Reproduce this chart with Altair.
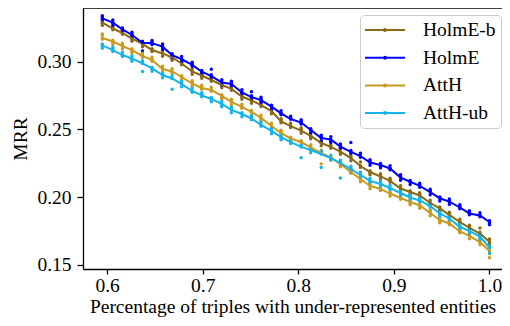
import altair as alt
import pandas as pd

# x positions (fraction of triples with under-represented entities)
x_vals = [0.595, 0.606, 0.616, 0.626, 0.637, 0.647, 0.658, 0.668, 0.678, 0.689,
          0.699, 0.709, 0.720, 0.730, 0.741, 0.751, 0.761, 0.772, 0.782, 0.792,
          0.803, 0.813, 0.824, 0.834, 0.844, 0.855, 0.865, 0.875, 0.886, 0.896,
          0.907, 0.917, 0.927, 0.938, 0.948, 0.958, 0.969, 0.979, 0.990, 1.000]

series_names = ["HolmE-b", "HolmE", "AttH", "AttH-ub"]
series_colors = ["#8C6914", "#0000FF", "#C99A1E", "#14B4EB"]

# mean MRR (line)
mrr_holme_b = [0.3288, 0.3245, 0.3212, 0.3171, 0.3131, 0.3086, 0.3061, 0.3031, 0.2987, 0.2928,
               0.2898, 0.2865, 0.2828, 0.2799, 0.2743, 0.2714, 0.2680, 0.2636, 0.2559, 0.2525,
               0.2492, 0.2452, 0.2400, 0.2371, 0.2337, 0.2289, 0.2230, 0.2186, 0.2153, 0.2120,
               0.2064, 0.2038, 0.2013, 0.1957, 0.1917, 0.1869, 0.1817, 0.1773, 0.1732, 0.1672]
mrr_holme = [0.3320, 0.3288, 0.3239, 0.3197, 0.3140, 0.3137, 0.3111, 0.3049, 0.3018, 0.2976,
             0.2926, 0.2894, 0.2847, 0.2835, 0.2773, 0.2739, 0.2717, 0.2668, 0.2619, 0.2577,
             0.2551, 0.2496, 0.2437, 0.2426, 0.2373, 0.2334, 0.2304, 0.2256, 0.2238, 0.2212,
             0.2145, 0.2114, 0.2083, 0.2038, 0.1992, 0.1967, 0.1924, 0.1880, 0.1865, 0.1817]
mrr_atth = [0.3175, 0.3149, 0.3116, 0.3086, 0.3042, 0.3013, 0.2946, 0.2928, 0.2887, 0.2839,
            0.2806, 0.2791, 0.2747, 0.2703, 0.2666, 0.2629, 0.2585, 0.2525, 0.2474, 0.2433,
            0.2407, 0.2367, 0.2326, 0.2293, 0.2245, 0.2186, 0.2134, 0.2083, 0.2061, 0.2027,
            0.1994, 0.1965, 0.1939, 0.1883, 0.1832, 0.1806, 0.1747, 0.1714, 0.1669, 0.1603]
mrr_atth_ub = [0.3120, 0.3086, 0.3049, 0.3024, 0.2987, 0.2950, 0.2902, 0.2876, 0.2835, 0.2784,
               0.2751, 0.2725, 0.2688, 0.2644, 0.2614, 0.2581, 0.2533, 0.2489, 0.2444, 0.2407,
               0.2371, 0.2348, 0.2319, 0.2289, 0.2252, 0.2208, 0.2164, 0.2120, 0.2097, 0.2068,
               0.2031, 0.1998, 0.1976, 0.1935, 0.1880, 0.1843, 0.1780, 0.1751, 0.1710, 0.1629]

# individual runs: deviation from the mean, in units of 0.001 MRR
runs_holme_b = [
    [1, -1, 2, 1, -2, 1, 2, -1, 1, 2, -2, 1, 2, -1, 1, -2, 2, 1, -1, 2, 1, -2, 1, 2, -1, 1, 3, -2, 1, 2, -1, 1, -2, 2, 1, -1, 2, 1, 4, -1],
    [-2, 1, -1, -2, 1, -1, -2, 2, -1, -2, 1, -1, -2, 2, -2, 1, -1, -2, 2, -1, -2, 1, -2, -1, 2, -2, -1, 1, -2, -1, 2, -2, 1, -1, -2, 2, -1, -2, -1, 2],
    [0, 2, 1, -1, 2, 0, 1, -2, 2, 0, -1, 2, 0, 1, -1, 2, 0, -1, 1, 0, 2, -1, 0, 1, -2, 2, 0, -1, 2, 1, 0, -1, 2, 0, -1, 1, 0, 2, 1, -2],
]
runs_holme = [
    [1, 2, -1, 2, 0, 1, -2, 1, 2, -1, 1, 5, 2, -1, 2, 4, -2, 1, 2, 0, 1, -2, 1, 2, -1, 7, 2, 1, -1, 2, 1, -2, 2, 1, -2, 1, 2, -1, 2, 1],
    [-1, -2, 1, -1, -6, -1, 2, -1, -2, 1, -2, -1, -1, 2, -1, -2, 1, -2, -1, 2, -1, 1, -2, -1, 2, -1, -1, -2, 1, -1, -2, 1, -1, -2, 1, -2, -1, 1, -1, -2],
    [2, 0, -2, 1, 1, 2, 1, -2, 0, 2, -1, 1, -2, 1, 0, 1, 2, -1, 0, 1, 2, 0, 2, -2, 1, 1, 0, 2, -2, 0, 2, 0, 1, 2, 0, 2, 1, 2, 0, -1],
]
runs_atth = [
    [2, 1, -2, 1, 2, -1, 1, 2, -2, 1, 2, -1, 1, -2, 2, 1, -1, 2, 1, -2, 1, 2, -8, 1, 2, -1, 1, -2, 2, 1, -1, 2, 1, -2, 1, -1, 2, 1, -2, -5],
    [-1, -2, 1, -2, -1, 2, -2, -1, 1, -2, -1, 2, -2, 1, -1, -2, 2, -1, -2, 1, -2, -1, 1, -2, -1, 2, -2, 1, -1, -2, 2, -1, -2, 1, -2, 2, -1, -2, 1, 2],
    [3, 0, 2, -1, 1, 0, 2, -1, 0, 2, 1, 0, -1, 2, 0, 1, -2, 0, 2, -1, 0, 1, 2, 0, -2, 1, 0, 2, -1, 0, 1, -2, 0, 2, -1, 0, 1, 2, 0, -2],
]
runs_atth_ub = [
    [1, 2, -1, 2, -6, 1, -2, -8, 1, 2, -1, 1, 2, -2, 1, 2, -1, 1, 2, -1, -8, 1, -10, 2, -11, 1, 2, -1, 1, 2, -2, 1, 2, -1, 1, 2, -1, 1, 2, -4],
    [-2, -1, 2, -1, 1, -2, 1, 2, -2, -1, 2, -2, -1, 1, -2, -1, 2, -2, -1, 2, 1, -2, 1, -1, 2, -2, -1, 2, -2, -1, 1, -2, -1, 2, -2, -1, 2, -2, -1, 1],
    [0, 1, 0, -2, 2, 0, 1, 0, 2, 0, 1, 0, -2, 2, 0, 1, 0, 2, -2, 0, 1, 0, 2, -1, 0, 2, 1, 0, 2, -1, 0, 2, 1, 0, -1, 2, 0, 1, -2, 0],
]

x_ticks = [0.6, 0.7, 0.8, 0.9, 1.0]
y_ticks = [0.15, 0.20, 0.25, 0.30]

means = [mrr_holme_b, mrr_holme, mrr_atth, mrr_atth_ub]
runs = [runs_holme_b, runs_holme, runs_atth, runs_atth_ub]

line_rows, pt_rows = [], []
for name, m, rs in zip(series_names, means, runs):
    for i, xv in enumerate(x_vals):
        line_rows.append({"x": xv, "mrr": m[i], "model": name})
        pt_rows.append({"x": xv, "mrr": m[i], "model": name})
        for r in rs:
            pt_rows.append({"x": xv, "mrr": round(m[i] + r[i] / 1000, 5), "model": name})
line_df = pd.DataFrame(line_rows)
pt_df = pd.DataFrame(pt_rows)

FONT = "Liberation Serif"
FS = 19.5
W, H = 419, 261

color_scale = alt.Scale(domain=series_names, range=series_colors)
x_enc = alt.X("x:Q", scale=alt.Scale(domain=[0.5748, 1.01309], nice=False, zero=False),
              axis=alt.Axis(values=x_ticks, format=".1f", grid=False, labelFlush=False,
                            labelFont=FONT, labelFontSize=FS, titleFont=FONT, titleFontSize=FS,
                            title="Percentage of triples with under-represented entities",
                            tickSize=5, labelPadding=2, titlePadding=3))
y_enc = alt.Y("mrr:Q", scale=alt.Scale(domain=[0.14701, 0.33963], nice=False, zero=False),
              axis=alt.Axis(values=y_ticks, format=".2f", grid=False, title="MRR",
                            labelFont=FONT, labelFontSize=FS, titleFont=FONT, titleFontSize=FS,
                            tickSize=6, labelPadding=6, titlePadding=6))

legend = alt.Legend(
    title=None, orient="none", legendX=277, legendY=7,
    symbolType="M-2.287,0H2.287M-0.114,0A0.114,0.114,0,1,0,0.114,0A0.114,0.114,0,1,0,-0.114,0",
    symbolSize=306, symbolStrokeWidth=2, symbolOffset=10,
    labelFont=FONT, labelFontSize=FS, labelColor="black", labelOffset=28,
    rowPadding=7.7, padding=5, strokeColor="#cccccc", fillColor="white",
    cornerRadius=4,
)

points = alt.Chart(pt_df).mark_circle(size=12, opacity=1).encode(
    x=x_enc, y=y_enc,
    color=alt.Color("model:N", scale=color_scale, legend=legend),
)

lines = alt.Chart(line_df).mark_line(strokeWidth=2).encode(
    x=x_enc, y=y_enc,
    color=alt.Color("model:N", scale=color_scale, legend=legend),
)

top_spine = alt.Chart(pd.DataFrame({"a": [0]})).mark_rule(color="black", strokeWidth=1.3).encode(
    x=alt.value(0), x2=alt.value(W), y=alt.value(0)
)

chart = alt.layer(points, lines, top_spine).properties(
    width=W, height=H,
    autosize=alt.AutoSizeParams(type="none"),
    padding={"left": 75, "top": 0, "right": 0, "bottom": 49},
    background="white",
).configure_view(stroke=None).configure_axis(
    labelFont=FONT, labelFontSize=FS, labelColor="black",
    titleFont=FONT, titleFontSize=FS, titleColor="black", titleFontWeight="normal",
    tickColor="black", tickWidth=1.3, domainColor="black", domainWidth=1.3,
)

chart.save("out.html", embed_options={"renderer": "svg", "actions": False})
